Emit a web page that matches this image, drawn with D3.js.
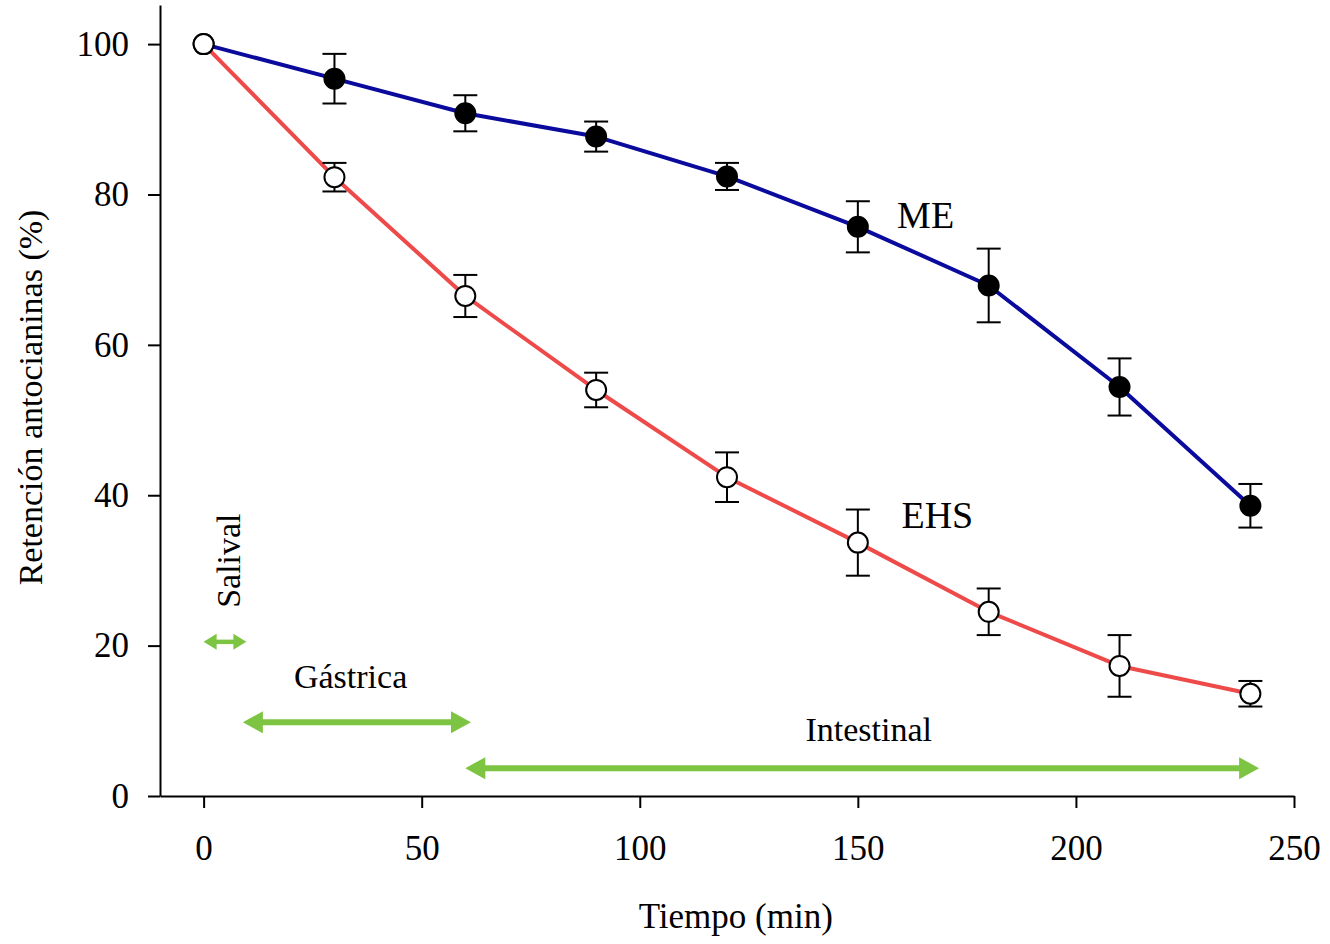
<!DOCTYPE html>
<html>
<head>
<meta charset="utf-8">
<script src="https://cdn.jsdelivr.net/npm/d3@7"></script>
<style>
  body { margin: 0; background: #fff; }
  text { font-family: "Liberation Serif", "DejaVu Serif", serif; fill: #000; }
</style>
</head>
<body>
<svg id="chart"></svg>
<script>
// Datos
const tiempo = [0, 30, 60, 90, 120, 150, 180, 210, 240];
const me     = [100, 95.4, 90.8, 87.7, 82.4, 75.7, 67.9, 54.4, 38.6];
const meErr  = [0, 3.3, 2.4, 2.0, 1.8, 3.4, 4.9, 3.8, 2.9];
const ehs    = [100, 82.3, 66.5, 54.0, 42.4, 33.7, 24.5, 17.3, 13.6];
const ehsErr = [0, 1.9, 2.8, 2.3, 3.3, 4.4, 3.1, 4.1, 1.7];

const xTicks = [0, 50, 100, 150, 200, 250];
const yTicks = [0, 20, 40, 60, 80, 100];

// Fases de la digestion (flechas verdes)
const fases      = ["Salival", "Gástrica", "Intestinal"];
const faseInicio = [0, 9, 60];
const faseFin    = [9.8, 61.3, 242];
const faseNivel  = [20.5, 9.8, 3.7];

const W = 1330, H = 944;
const margin = {top: 5, right: 36, bottom: 148, left: 160};
const width = W - margin.left - margin.right,
      height = H - margin.top - margin.bottom;

const svg = d3.select("#chart").attr("width", W).attr("height", H);
const g = svg.append("g")
             .attr("transform", "translate(" + margin.left + "," + margin.top + ")");

const x = d3.scaleLinear().domain([-10, 250]).range([0, width]);
const y = d3.scaleLinear().domain([0, 105.2]).range([height, 0]);

// Ejes
const xAxis = g.append("g")
  .attr("transform", "translate(0," + height + ")")
  .call(d3.axisBottom(x).tickValues(xTicks).tickSize(12).tickSizeOuter(0).tickPadding(27));
const yAxis = g.append("g")
  .call(d3.axisLeft(y).tickValues(yTicks).tickSize(12).tickSizeOuter(0).tickPadding(19));

[xAxis, yAxis].forEach(a => {
  a.selectAll("path, line").attr("stroke", "#000").attr("stroke-width", 2);
  a.selectAll("text").style("font-family", "Liberation Serif").style("font-size", "35px").attr("fill", "#000");
});

// Titulos de ejes
svg.append("text")
   .attr("x", margin.left + x(122))
   .attr("y", 928)
   .attr("text-anchor", "middle")
   .style("font-size", "35px")
   .text("Tiempo (min)");

svg.append("text")
   .attr("transform", "translate(42," + (margin.top + y(53)) + ") rotate(-90)")
   .attr("text-anchor", "middle")
   .style("font-size", "34px")
   .text("Retención antocianinas (%)");

// Series
const series = [
  {name: "ME",  values: me,  err: meErr,  color: "#0a0a9c", fill: "#000", lab: [159, 75.6]},
  {name: "EHS", values: ehs, err: ehsErr, color: "#ee4a4a", fill: "#fff", lab: [160, 35.7]}
];

const line = d3.line()
               .x(d => x(d.t))
               .y(d => y(d.v));

series.forEach(s => {
  s.data = tiempo.map((t, i) => ({t: t, v: s.values[i], e: s.err[i]}));
  g.append("path")
   .datum(s.data)
   .attr("fill", "none")
   .attr("stroke", s.color)
   .attr("stroke-width", 4)
   .attr("stroke-linejoin", "round")
   .attr("d", line);
});

series.forEach(s => {
  const eb = g.append("g").selectAll("g")
    .data(s.data.filter(d => d.e > 0))
    .join("g")
    .attr("stroke", "#000")
    .attr("stroke-width", 2);
  eb.append("line")
    .attr("x1", d => x(d.t)).attr("x2", d => x(d.t))
    .attr("y1", d => y(d.v - d.e)).attr("y2", d => y(d.v + d.e));
  eb.append("line")
    .attr("x1", d => x(d.t) - 12).attr("x2", d => x(d.t) + 12)
    .attr("y1", d => y(d.v + d.e)).attr("y2", d => y(d.v + d.e));
  eb.append("line")
    .attr("x1", d => x(d.t) - 12).attr("x2", d => x(d.t) + 12)
    .attr("y1", d => y(d.v - d.e)).attr("y2", d => y(d.v - d.e));
});

series.forEach(s => {
  g.append("g").selectAll("circle")
   .data(s.data)
   .join("circle")
   .attr("cx", d => x(d.t))
   .attr("cy", d => y(d.v))
   .attr("r", 10)
   .attr("fill", (d, i) => i === 0 ? "#fff" : s.fill)
   .attr("stroke", "#000")
   .attr("stroke-width", 2);

  g.append("text")
   .attr("x", x(s.lab[0]))
   .attr("y", y(s.lab[1]))
   .style("font-size", "38px")
   .text(s.name);
});

// Flechas de fases
const green = "#7dc443";
fases.forEach((f, i) => {
  const x0 = x(faseInicio[i]), x1 = x(faseFin[i]), yy = y(faseNivel[i]);
  const small = i === 0;
  const hl = small ? 13 : 20, hh = small ? 8 : 11, sw = small ? 4.5 : 6;
  g.append("line")
   .attr("x1", x0 + hl - 2).attr("x2", x1 - hl + 2)
   .attr("y1", yy).attr("y2", yy)
   .attr("stroke", green)
   .attr("stroke-width", sw);
  g.append("path")
   .attr("fill", green)
   .attr("d", "M" + x0 + "," + yy + "L" + (x0 + hl) + "," + (yy - hh) + "L" + (x0 + hl) + "," + (yy + hh) + "Z");
  g.append("path")
   .attr("fill", green)
   .attr("d", "M" + x1 + "," + yy + "L" + (x1 - hl) + "," + (yy - hh) + "L" + (x1 - hl) + "," + (yy + hh) + "Z");
});

// Etiquetas de fases
g.append("text")
 .attr("transform", "translate(" + (x(8.4)) + "," + y(31.3) + ") rotate(-90)")
 .attr("text-anchor", "middle")
 .style("font-size", "34px")
 .text(fases[0]);

g.append("text")
 .attr("x", x(33.7))
 .attr("y", y(14.3))
 .attr("text-anchor", "middle")
 .style("font-size", "34px")
 .text(fases[1]);

g.append("text")
 .attr("x", x(152.5))
 .attr("y", y(7.3))
 .attr("text-anchor", "middle")
 .style("font-size", "34px")
 .text(fases[2]);
</script>
</body>
</html>
